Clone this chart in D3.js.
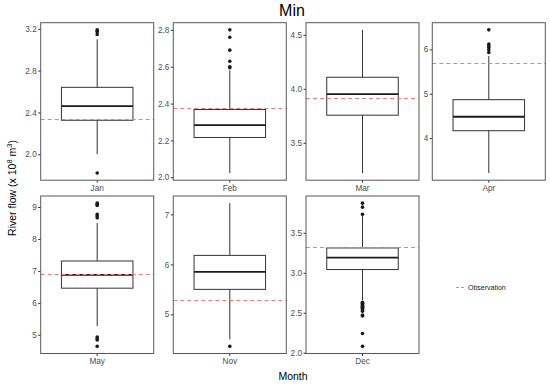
<!DOCTYPE html>
<html>
<head>
<meta charset="utf-8">
<script src="https://cdn.jsdelivr.net/npm/d3@7"></script>
<style>
  body { margin: 0; background: #fff; }
  svg text { font-family: "Liberation Sans", Arial, sans-serif; }
</style>
</head>
<body>
<svg id="chart"></svg>
<script>
// boxplot summaries, one entry per month panel
const months = ["Jan", "Feb", "Mar", "Apr", "May", "Nov", "Dec"];
const q1 = [2.325, 2.216, 3.756, 4.165, 6.46, 5.50, 3.04];
const median = [2.46, 2.283, 3.95, 4.48, 6.876, 5.85, 3.19];
const q3 = [2.64, 2.368, 4.107, 4.865, 7.31, 6.18, 3.31];
const whiskLo = [2.0, 2.023, 3.22, 3.21, 5.27, 4.5, 2.66];
const whiskHi = [3.1, 2.58, 4.546, 5.85, 8.5, 7.225, 3.74];
const outliers = [
  [3.19, 3.18, 3.17, 3.145, 1.82],
  [2.8, 2.76, 2.69, 2.63, 2.6, 2.595],
  [],
  [6.44, 6.12, 6.08, 6.04, 5.99, 5.93],
  [9.12, 9.08, 9.05, 8.77, 8.72, 8.66, 4.93, 4.88, 4.84, 4.64],
  [4.36],
  [3.87, 3.82, 3.73, 2.63, 2.62, 2.61, 2.6, 2.59, 2.58, 2.57, 2.56, 2.55, 2.54, 2.52, 2.47, 2.46, 2.24, 2.08]
];
const observed = [2.335, 2.371, 3.91, 5.68, 6.89, 5.27, 3.32];
const yTicks = [
  [2.0, 2.4, 2.8, 3.2],
  [2.0, 2.2, 2.4, 2.6, 2.8],
  [3.5, 4.0, 4.5],
  [4, 5, 6],
  [5, 6, 7, 8, 9],
  [5, 6, 7],
  [2.0, 2.5, 3.0, 3.5]
];
const tickDecimals = [1, 1, 1, 0, 0, 0, 1];

const width = 550, height = 385;
const colLeft = [40.7, 173.3, 306, 432.3];
const rowTop = [22.7, 196];
const panelW = 113, panelH = 157.5;

const svg = d3.select("svg#chart")
  .attr("width", width)
  .attr("height", height);

const obsColor = "#f07c7c";
const textColor = "#4d4d4d";
const snap = v => Math.round(v - 0.5) + 0.5; // keep thin lines crisp

months.forEach((m, i) => {
  const col = i % 4, row = Math.floor(i / 4);
  const g = svg.append("g").attr("transform", `translate(${colLeft[col]},${rowTop[row]})`);

  const vals = [whiskLo[i], whiskHi[i], observed[i], ...outliers[i]];
  const ext = d3.extent(vals);
  const pad = (ext[1] - ext[0]) * 0.05;
  const y = d3.scaleLinear().domain([ext[0] - pad, ext[1] + pad]).range([panelH, 0]);
  const x = d3.scaleBand().domain([m]).range([0, panelW]).paddingOuter(0.29);
  const cx = x(m) + x.bandwidth() / 2;

  // axes
  const yAxis = g.append("g")
    .call(d3.axisLeft(y).tickValues(yTicks[i]).tickSize(2.5).tickPadding(1.5)
      .tickFormat(d3.format(`.${tickDecimals[i]}f`)));
  const xAxis = g.append("g").attr("transform", `translate(0,${panelH})`)
    .call(d3.axisBottom(x).tickSize(2.5).tickPadding(2));
  [yAxis, xAxis].forEach(a => {
    a.select(".domain").remove();
    a.selectAll("line").attr("stroke", "#333");
    a.selectAll("text").attr("fill", textColor).style("font-size", "8.2px");
  });

  // whisker
  g.append("line")
    .attr("x1", cx).attr("x2", cx)
    .attr("y1", y(whiskLo[i])).attr("y2", y(whiskHi[i]))
    .attr("stroke", "#333").attr("stroke-width", 1);

  // box
  g.append("rect")
    .attr("x", x(m)).attr("width", x.bandwidth())
    .attr("y", y(q3[i])).attr("height", y(q1[i]) - y(q3[i]))
    .attr("fill", "#fff").attr("stroke", "#333").attr("stroke-width", 1);
  g.append("line")
    .attr("x1", x(m)).attr("x2", x(m) + x.bandwidth())
    .attr("y1", y(median[i])).attr("y2", y(median[i]))
    .attr("stroke", "#1a1a1a").attr("stroke-width", 1.8);

  // outliers
  g.selectAll(".out").data(outliers[i]).join("circle")
    .attr("class", "out")
    .attr("cx", cx).attr("cy", d => y(d)).attr("r", 1.8)
    .attr("fill", "#1a1a1a");

  // observation line
  const oy = snap(rowTop[row] + y(observed[i])) - rowTop[row];
  g.append("line")
    .attr("x1", 0).attr("x2", panelW)
    .attr("y1", oy).attr("y2", oy)
    .attr("stroke", obsColor).attr("stroke-width", 1)
    .attr("stroke-dasharray", "4,3");

  // panel border
  g.append("rect")
    .attr("width", panelW).attr("height", panelH)
    .attr("fill", "none").attr("stroke", "#595959").attr("stroke-width", 1);
});

// legend
const leg = svg.append("g").attr("transform", "translate(456,287.5)");
leg.append("line").attr("x1", 0).attr("x2", 10).attr("y1", 0).attr("y2", 0)
  .attr("stroke", obsColor).attr("stroke-dasharray", "3,2");
leg.append("text").attr("x", 12).attr("y", 2.5)
  .style("font-size", "7px").attr("fill", "#222").text("Observation");

// titles
svg.append("text").attr("x", 292).attr("y", 16).attr("text-anchor", "middle")
  .style("font-size", "16px").attr("fill", "#000").text("Min");
svg.append("text").attr("x", 293).attr("y", 380).attr("text-anchor", "middle")
  .style("font-size", "10.5px").attr("fill", "#000").text("Month");

const yl = svg.append("text")
  .attr("transform", "translate(16,188) rotate(-90)")
  .attr("text-anchor", "middle")
  .style("font-size", "10.5px").attr("fill", "#000");
yl.append("tspan").text("River flow (x 10");
yl.append("tspan").attr("dy", -4).style("font-size", "7.5px").text("8");
yl.append("tspan").attr("dy", 4).text(" m");
yl.append("tspan").attr("dy", -4).style("font-size", "7.5px").text("3");
yl.append("tspan").attr("dy", 4).text(")");
</script>
</body>
</html>
